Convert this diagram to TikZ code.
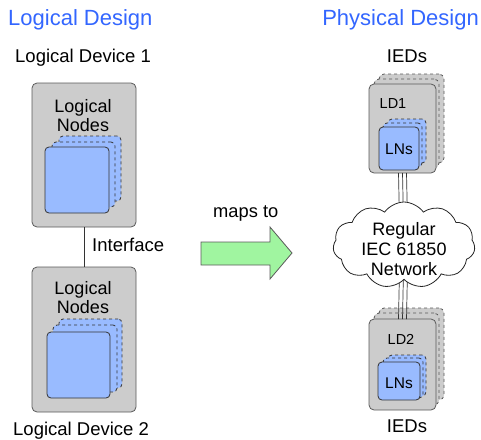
\documentclass[tikz,border=0pt]{standalone}
\usepackage{fontspec}
\setmainfont{Liberation Sans}
\usetikzlibrary{shapes.symbols,calc}
\definecolor{titleblue}{RGB}{51,102,255}
\definecolor{boxgray}{RGB}{204,204,204}
\definecolor{edgegray}{RGB}{90,90,90}
\definecolor{lnblue}{RGB}{153,187,255}
\definecolor{arrowgreen}{RGB}{160,245,160}
\newcommand{\fs}[1]{\fontsize{#1}{#1}\selectfont}
\tikzset{
  txt/.style={inner sep=0pt, anchor=base},
  ldbox/.style={draw=edgegray, fill=boxgray, line width=0.8pt, rounded corners=5pt,
    inner sep=0pt, outer sep=0pt, anchor=north west},
  ldback/.style={ldbox, dashed},
  lnbox/.style={draw=black!80, fill=lnblue, line width=0.8pt, rounded corners=4pt,
    inner sep=0pt, outer sep=0pt, anchor=north west},
  lnback/.style={lnbox, dashed},
  link/.style={draw=black!80, line width=0.7pt},
}
\begin{document}
\begin{tikzpicture}[x=1pt,y=-1pt]
\useasboundingbox (0,0) rectangle (481,439);

% headings
\node[txt, anchor=base west, text=titleblue] (tl) at (8,25) {\fs{22}Logical Design};
\node[txt, anchor=base east, text=titleblue] (tp) at (479,25) {\fs{22}Physical Design};
\node[txt, anchor=base west] (ld1cap) at (15,62) {\fs{18.5}Logical Device 1};
\node[txt, anchor=base west] (ld2cap) at (13,435) {\fs{18.5}Logical Device 2};
\node[txt] (iedtop) at (407,62) {\fs{18.5}IEDs};
\node[txt] (iedbot) at (407,432) {\fs{18.5}IEDs};

% logical device 1
\node[ldbox, minimum width=104pt, minimum height=144pt] (dev1) at (32,83) {};
\node[txt] (dev1a) at (83,112) {\fs{18}Logical};
\node[txt] (dev1b) at (83,131) {\fs{18}Nodes};
\node[lnback, minimum width=62pt, minimum height=65pt] (ln1c) at (59,136) {};
\node[lnback, minimum width=63pt, minimum height=65pt] (ln1b) at (52,142) {};
\node[lnbox, minimum width=64pt, minimum height=66pt] (ln1a) at (45,147) {};

% logical device 2
\node[ldbox, minimum width=104pt, minimum height=145pt] (dev2) at (32,267) {};
\node[txt] (dev2a) at (83,294) {\fs{18}Logical};
\node[txt] (dev2b) at (83,313) {\fs{18}Nodes};
\node[lnback, minimum width=63pt, minimum height=69pt] (ln2c) at (59,319) {};
\node[lnback, minimum width=64pt, minimum height=67pt] (ln2b) at (53,325) {};
\node[lnbox, minimum width=63pt, minimum height=66pt] (ln2a) at (47,332) {};

% interface link
\draw[link] (dev1.south) -- (dev2.north);
\node[txt, anchor=base west] (iface) at (92,251) {\fs{18.5}Interface};

% mapping arrow
\node[txt, anchor=base west] (maps) at (213,217) {\fs{18.3}maps to};
\draw[draw=edgegray, fill=arrowgreen, line width=0.8pt]
  (201,242) -- (270,242) -- (270,227) -- (292,253) -- (270,279) -- (270,265) -- (201,265) -- cycle;

% IED 1 stack
\node[ldback, minimum width=65pt, minimum height=89pt] (ied1c) at (379,74) {};
\node[ldback, minimum width=65pt, minimum height=89pt] (ied1b) at (374,79) {};
\node[ldbox, minimum width=67pt, minimum height=89pt] (ied1a) at (369,84) {};
\node[txt] (ld1) at (393,108) {\fs{14.5}LD1};
\node[lnback, minimum width=38pt, minimum height=44pt] (lns1c) at (388,119) {};
\node[lnback, minimum width=39pt, minimum height=44pt] (lns1b) at (383,123) {};
\node[lnbox, minimum width=40pt, minimum height=43pt] (lns1a) at (379,127) {};
\node[txt] (lns1) at (399,154) {\fs{15.5}LNs};

% IED 2 stack
\node[ldback, minimum width=65pt, minimum height=92pt] (ied2c) at (379,308) {};
\node[ldback, minimum width=65pt, minimum height=92pt] (ied2b) at (374,313) {};
\node[ldbox, minimum width=67pt, minimum height=91pt] (ied2a) at (369,319) {};
\node[txt] (ld2) at (401,344) {\fs{14.5}LD2};
\node[lnback, minimum width=38pt, minimum height=41pt] (lns2c) at (388,355) {};
\node[lnback, minimum width=40pt, minimum height=40pt] (lns2b) at (383,358) {};
\node[lnbox, minimum width=42pt, minimum height=38pt] (lns2a) at (378,362) {};
\node[txt] (lns2) at (399,388) {\fs{15.5}LNs};

% network links (three parallel wires), covered by the cloud
\coordinate (netc) at (404,245);
\foreach \d in {-4,0,4} {
  \draw[link] ($(ied1a.south)+(\d,0)$) -- ($(netc)+(\d,0)$);
  \draw[link] ($(netc)+(\d,0)$) -- ($(ied2a.north)+(\d,0)$);
}

% network cloud
\node[cloud, cloud puffs=11, cloud puff arc=110, aspect=1.7, draw=black!85, fill=white,
  line width=0.8pt, minimum width=142pt, minimum height=86pt, inner sep=0pt] (net) at (netc) {};
\node[txt] (net1) at (404,235) {\fs{18}Regular};
\node[txt] (net2) at (404,255) {\fs{18}IEC 61850};
\node[txt] (net3) at (404,275) {\fs{18}Network};
\end{tikzpicture}
\end{document}
